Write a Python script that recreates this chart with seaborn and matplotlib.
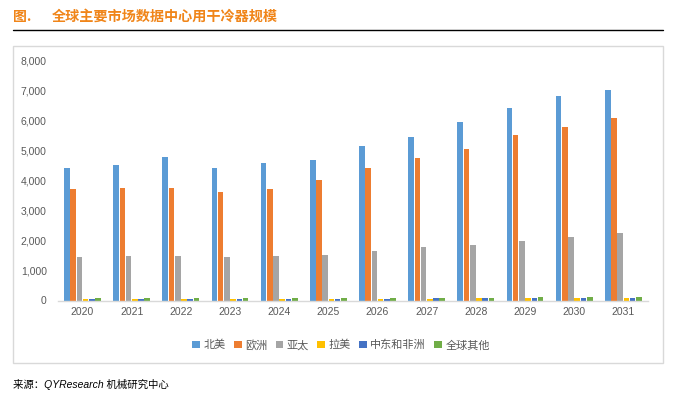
import matplotlib
matplotlib.use("Agg")
import matplotlib.pyplot as plt
import seaborn as sns
import pandas as pd
from matplotlib.patches import Rectangle
from matplotlib.lines import Line2D

years = ["2020", "2021", "2022", "2023", "2024", "2025", "2026", "2027", "2028", "2029", "2030", "2031"]
regions = ["北美", "欧洲", "亚太", "拉美", "中东和非洲", "全球其他"]
north_america = [4410, 4520, 4780, 4410, 4580, 4680, 5150, 5450, 5950, 6420, 6820, 7020]
europe = [3710, 3750, 3750, 3610, 3710, 4010, 4410, 4750, 5050, 5520, 5790, 6090]
asia_pacific = [1460, 1500, 1500, 1460, 1500, 1530, 1670, 1800, 1870, 2000, 2130, 2270]
latin_america = [60, 60, 60, 60, 60, 60, 50, 50, 80, 80, 80, 80]
mea = [60, 60, 60, 60, 60, 60, 60, 70, 80, 80, 80, 80]
others = [90, 90, 90, 90, 90, 90, 90, 90, 90, 120, 120, 120]
colors = ["#5B9BD5", "#ED7D31", "#A5A5A5", "#FFC000", "#4472C4", "#70AD47"]

series = [north_america, europe, asia_pacific, latin_america, mea, others]
rows = []
for reg, vals in zip(regions, series):
    for y, v in zip(years, vals):
        rows.append({"year": y, "region": reg, "value": v})
df = pd.DataFrame(rows)

sns.set_theme(style="white")
plt.rcParams['font.family'] = ['Liberation Sans', 'Noto Sans CJK SC', 'DejaVu Sans']

fig = plt.figure(figsize=(6.93, 4.08), dpi=100)
W, H = 693, 408
ax = fig.add_axes([57.9 / W, 1 - 300.5 / H, 590 / W, (300.5 - 61) / H])

sns.barplot(data=df, x="year", y="value", hue="region", hue_order=regions,
            palette=colors, width=0.76, gap=0.1, ax=ax, legend=False,
            saturation=1, errorbar=None, linewidth=0, edgecolor="none")

ax.set_xlim(-0.5, 11.5)
ax.set_ylim(0, 8000)
ax.set_yticks(range(0, 8001, 1000))
ax.set_yticklabels([f"{v:,}" for v in range(0, 8001, 1000)])
ax.set_xlabel("")
ax.set_ylabel("")
for s in ["top", "right", "left"]:
    ax.spines[s].set_visible(False)
ax.spines["bottom"].set_color("#D9D9D9")
ax.spines["bottom"].set_linewidth(1)
ax.tick_params(axis="both", length=0, labelsize=7.5, labelcolor="#595959")
ax.tick_params(axis="y", pad=8)
ax.tick_params(axis="x", pad=5)
ax.grid(False)

# border box
fig.patches.append(Rectangle((13 / W, 1 - 363 / H), 650 / W, 317 / H, transform=fig.transFigure,
                             fill=False, edgecolor="#D9D9D9", linewidth=1))
# title line
fig.add_artist(Line2D([13 / W, 663 / W], [1 - 30 / H, 1 - 30 / H], transform=fig.transFigure,
                      color="black", linewidth=1))
orange = "#F08519"
fig.text(13 / W, 1 - 17 / H, "图.", color=orange, fontsize=10, fontweight="bold",
         va="center", ha="left", family=['Noto Sans CJK SC', 'DejaVu Sans'])
fig.text(52 / W, 1 - 17 / H, "全球主要市场数据中心用干冷器规模", color=orange, fontsize=10.2,
         fontweight="bold", va="center", ha="left", family=['Noto Sans CJK SC', 'DejaVu Sans'])

handles = [Rectangle((0, 0), 1, 1, facecolor=c, edgecolor="none") for c in colors]
leg = fig.legend(handles, regions, loc="center", bbox_to_anchor=(341 / W, 1 - 345 / H), ncol=6,
                 frameon=False, handlelength=0.7, handleheight=0.7,
                 handletextpad=0.3, columnspacing=0.75,
                 prop={'family': ['Noto Sans CJK SC', 'DejaVu Sans'], 'size': 8})
for t in leg.get_texts():
    t.set_color("#595959")

fig.text(13 / W, 1 - 385 / H, "来源：QYResearch 机械研究中心", fontsize=7.5, style="italic",
         color="black", va="center", ha="left",
         family=['Liberation Sans', 'Noto Sans CJK SC', 'DejaVu Sans'])

fig.savefig("out.png", dpi=100)
